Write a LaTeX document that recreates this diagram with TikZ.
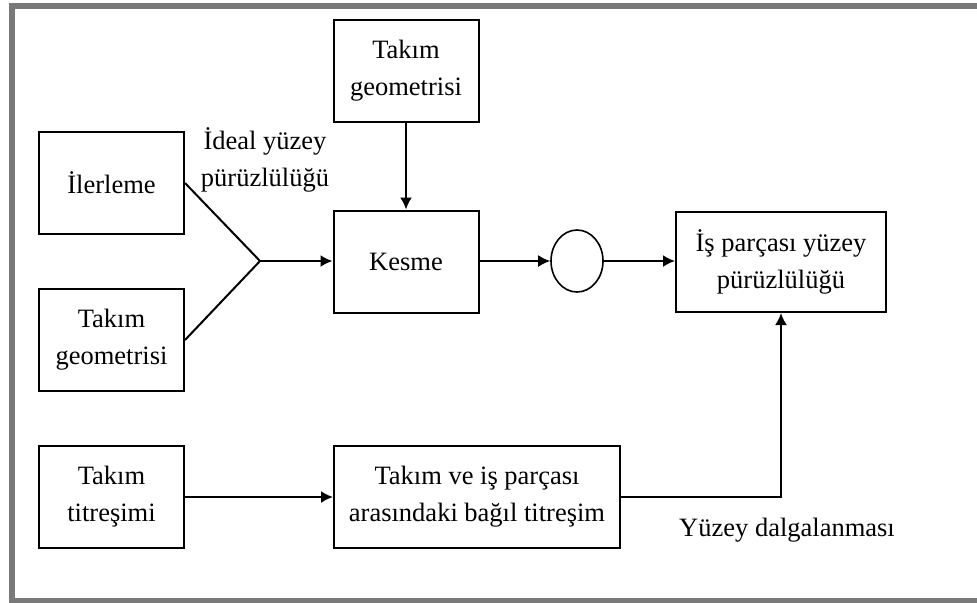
\documentclass[tikz,border=0pt]{standalone}
\usepackage{fontspec}
\setmainfont{Liberation Serif}
\usepackage{tikz}
\usetikzlibrary{arrows,arrows.meta,positioning,shapes}
\usetikzlibrary{calc}

\begin{document}
\begin{tikzpicture}[x=0.5pt,y=-0.5pt,
  every node/.style={align=center,font=\fontsize{13.25}{18.5}\selectfont},
  block/.style={draw,line width=1pt,inner sep=0pt,minimum width=72.5pt,minimum height=51pt},
  wide/.style={block,minimum width=143pt},
  result/.style={block,minimum width=105pt,minimum height=50pt},
  junction/.style={draw,line width=0.8pt,ellipse,inner sep=0pt,minimum width=26pt,minimum height=31pt},
  label/.style={inner sep=0pt},
  frame/.style={draw=gray!95!black,line width=3pt},
  line/.style={line width=1pt},
  to/.style={->,>={Latex[length=6pt,width=6pt]},line width=1pt}]

    \useasboundingbox (0,0) rectangle (977,602);
    \clip (0,0) rectangle (977,602);
    \draw[frame] (11.5,5.5) rectangle (990,601);

    \node[block](ilerleme) at (111.5,183){İlerleme};
    \node[block](geoleft) at (111.5,340){Takım\\geometrisi};
    \node[block](titresim) at (111.5,497){Takım\\titreşimi};

    \node[block](geotop) at (406,71){Takım\\geometrisi};
    \node[block](kesme) at (406,261.5){Kesme};
    \node[wide](bagil) at (477,497){Takım ve iş parçası\\arasındaki bağıl titreşim};

    \node[junction](sum) at (577,261){};
    \node[result](isparca) at (781,262){İş parçası yüzey\\pürüzlülüğü};

    \coordinate (join) at (260,261);

    \node[label](ideal) at (265,160){İdeal yüzey\\pürüzlülüğü};
    \node[label](dalga) at (787,530){Yüzey dalgalanması};

    \draw[line](ilerleme.east) -- (join);
    \draw[line](geoleft.east) -- (join);
    \draw[to](join) -- (kesme.west |- join);
    \draw[to](geotop) -- (kesme);
    \draw[to](kesme.east |- sum) -- (sum);
    \draw[to](sum) -- (isparca.west |- sum);
    \draw[to](titresim) -- (bagil);
    \draw[to](bagil.east) -| (isparca.south);
\end{tikzpicture}
\end{document}
